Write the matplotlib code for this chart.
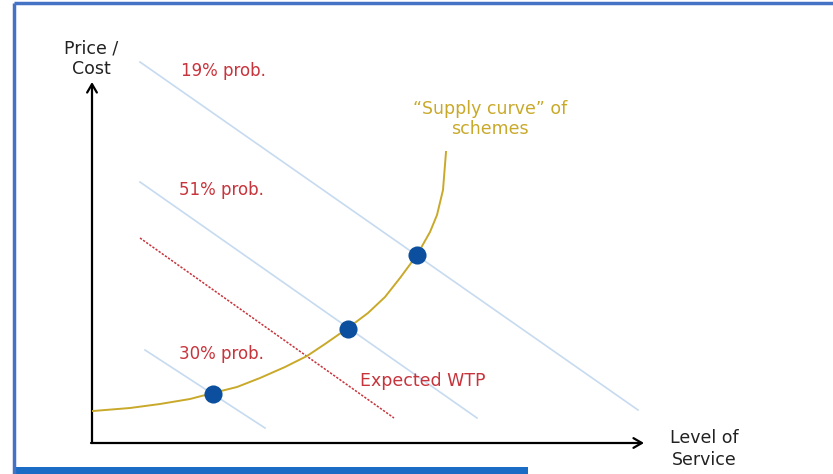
import matplotlib
matplotlib.use("Agg")
import matplotlib.pyplot as plt
from matplotlib.patches import Rectangle, FancyArrowPatch

# schematic drawn in picture pixel coordinates (x right, y down)
W, H = 833, 474

# iso-probability lines: (x0, y0, x1, y1)
prob_lines = [(140, 62, 638, 410), (140, 182, 477, 418), (145, 350, 265, 428)]
prob_labels = ["19% prob.", "51% prob.", "30% prob."]
prob_label_xy = [(181, 71), (179, 190), (179, 354)]

wtp_line = (140, 238, 394, 418)
wtp_label = "Expected WTP"

# supply curve points
supply_x = [93, 130, 160, 190, 213, 237, 260, 285, 307, 325, 348, 368, 385,
            400, 417, 430, 437, 443, 446]
supply_y = [411, 408, 404, 399, 393, 387, 378, 367, 356, 344, 328, 313, 297,
            278, 255, 232, 215, 190, 152]

# schemes on the curve
dots_x = [213, 348, 417]
dots_y = [394, 329, 255]

RED = "#c8343c"
GOLD = "#c9a92a"
LBLUE = "#c6daf0"
DOT = "#0b4f9e"

fig = plt.figure(figsize=(W / 100, H / 100), dpi=100)
ax = fig.add_axes([0, 0, 1, 1])
ax.set_xlim(0, W)
ax.set_ylim(H, 0)
ax.axis("off")

# frame
ax.plot([14, W], [3, 3], color="#4472c4", lw=2.5, solid_capstyle="butt")
ax.plot([14, 14], [3, H], color="#4472c4", lw=2.5, solid_capstyle="butt")
ax.add_patch(Rectangle((14, 467), 514, 10, color="#1b6cc4", lw=0))

for x0, y0, x1, y1 in prob_lines:
    ax.plot([x0, x1], [y0, y1], color=LBLUE, lw=1.2)
for t, (x, y) in zip(prob_labels, prob_label_xy):
    ax.text(x, y, t, color=RED, fontsize=12, ha="left", va="center")

ax.plot(wtp_line[::2], wtp_line[1::2], color=RED, lw=1.1, ls=(0, (1.5, 1)))
ax.text(360, 381, wtp_label, color=RED, fontsize=12.5, ha="left", va="center")

ax.plot(supply_x, supply_y, color=GOLD, lw=1.4)
ax.scatter(dots_x, dots_y, s=170, color=DOT, zorder=5, lw=0)
ax.text(490, 119, "\u201cSupply curve\u201d of\nschemes", color=GOLD,
        fontsize=12.5, ha="center", va="center", linespacing=1.2)

# axes with arrows
ax.add_patch(FancyArrowPatch((92, 443), (92, 82), arrowstyle="->,head_length=6,head_width=3.5",
                             color="black", lw=1.6, shrinkA=0, shrinkB=0))
ax.add_patch(FancyArrowPatch((91, 443), (644, 443), arrowstyle="->,head_length=6,head_width=3.5",
                             color="black", lw=1.6, shrinkA=0, shrinkB=0))
ax.text(91, 59, "Price /\nCost", fontsize=12.5, ha="center", va="center",
        color="#222222", linespacing=1.15)
ax.text(704, 449, "Level of\nService", fontsize=12.5, ha="center", va="center",
        color="#222222", linespacing=1.3)

fig.savefig("out.png", dpi=100)
